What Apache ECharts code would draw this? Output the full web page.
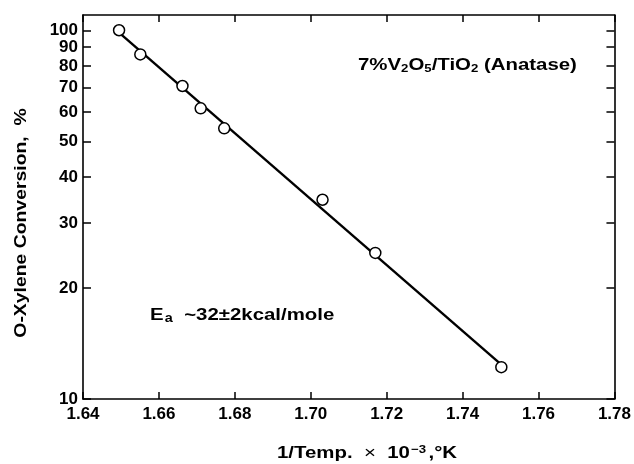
<!DOCTYPE html>
<html>
<head>
<meta charset="utf-8">
<script src="https://cdn.jsdelivr.net/npm/echarts@6/dist/echarts.min.js"></script>
<style>
  html, body { margin: 0; padding: 0; background: #fff; }
  #main { width: 634px; height: 464px; }
</style>
</head>
<body>
<div id="main"></div>
<script>
// measured points (1/T x 10^3, conversion %)
var tempInv = [1.6495, 1.6551, 1.6662, 1.6710, 1.6772, 1.7031, 1.7170, 1.7502];
var conversion = [100, 86, 70.6, 61.4, 54.2, 34.7, 24.9, 12.2];
// fitted line end points
var fitX = [1.6495, 1.7502];
var fitY = [98.5, 12.4];
var yTicks = [10, 20, 30, 40, 50, 60, 70, 80, 90, 100];

var FONT = 'Liberation Sans';
var myChart = echarts.init(document.getElementById('main'));

var pts = tempInv.map(function (x, i) { return [x, conversion[i]]; });
var fit = fitX.map(function (x, i) { return [x, fitY[i]]; });

var axLine = { show: true, lineStyle: { color: '#000', width: 1.6 } };

myChart.setOption({
	backgroundColor: '#fff',
	animation: false,
	grid: { left: 83, right: 18, top: 15, bottom: 65 },
	xAxis: [
		{
			type: 'value', min: 1.64, max: 1.78, interval: 0.02,
			axisLine: axLine,
			axisTick: { inside: true, length: 7, lineStyle: { color: '#000', width: 1.5 } },
			axisLabel: {
				color: '#000', fontFamily: FONT, fontWeight: 'bold', fontSize: 17, margin: 7,
				formatter: function (v) { return v.toFixed(2); }
			},
			splitLine: { show: false }
		},
		{
			type: 'value', position: 'top', min: 1.64, max: 1.78, interval: 0.02,
			axisLine: axLine,
			axisTick: { inside: true, length: 7, lineStyle: { color: '#000', width: 1.5 } },
			axisLabel: { show: false },
			splitLine: { show: false }
		}
	],
	yAxis: [
		{
			type: 'log', logBase: 10, min: 10, max: 110,
			axisLine: axLine,
			axisTick: { inside: true, length: 8, customValues: yTicks, lineStyle: { color: '#000', width: 1.5 } },
			axisLabel: {
				color: '#000', fontFamily: FONT, fontWeight: 'bold', fontSize: 17, margin: 5,
				customValues: yTicks
			},
			minorTick: { show: false },
			splitLine: { show: false }
		},
		{
			type: 'log', logBase: 10, min: 10, max: 110, position: 'right',
			axisLine: axLine,
			axisTick: { inside: true, length: 8, customValues: yTicks, lineStyle: { color: '#000', width: 1.5 } },
			axisLabel: { show: false },
			splitLine: { show: false }
		}
	],
	series: [
		{
			type: 'line',
			data: fit,
			symbol: 'none',
			lineStyle: { color: '#000', width: 2.4 },
			z: 2
		},
		{
			type: 'scatter',
			data: pts,
			symbol: 'circle',
			symbolSize: 11,
			itemStyle: { color: '#fff', opacity: 1, borderColor: '#000', borderWidth: 1.5 },
			z: 3
		}
	],
	graphic: [
		{
			type: 'text', x: 21, y: 223, rotation: Math.PI / 2, scaleX: 1.14,
			style: {
				text: 'O-Xylene Conversion,  %',
				x: 0, y: 0,
				font: 'bold 17px "Liberation Sans"', fill: '#000',
				align: 'center', verticalAlign: 'middle'
			}
		},
		{
			type: 'text', x: 277, y: 453, scaleX: 1.2,
			style: {
				text: '1/Temp.  {x|×}  10{sup|−3},{n|°K}',
				x: 0, y: 0,
				font: 'bold 17px "Liberation Sans"', fill: '#000',
				verticalAlign: 'middle',
				rich: {
					x: { fontFamily: FONT, fontSize: 17, fontWeight: 'normal' },
					sup: { fontFamily: FONT, fontSize: 11, fontWeight: 'bold', padding: [0, 2, 7, 1] },
					n: { fontFamily: FONT, fontSize: 17, fontWeight: 'bold' }
				}
			}
		},
		{
			type: 'text', x: 358, y: 65, scaleX: 1.2,
			style: {
				text: '7%V{s|2}O{s|5}/TiO{s|2} (Anatase)',
				x: 0, y: 0,
				font: 'bold 17px "Liberation Sans"', fill: '#000',
				verticalAlign: 'middle',
				rich: {
					s: { fontFamily: FONT, fontSize: 11, fontWeight: 'bold', padding: [7, 0, 0, 0] }
				}
			}
		},
		{
			type: 'text', x: 150, y: 315, scaleX: 1.2,
			style: {
				text: 'E{s|a}  ~32±2kcal/mole',
				x: 0, y: 0,
				font: 'bold 17px "Liberation Sans"', fill: '#000',
				verticalAlign: 'middle',
				rich: {
					s: { fontFamily: FONT, fontSize: 12, fontWeight: 'bold', padding: [7, 0, 0, 1] }
				}
			}
		}
	]
});
</script>
</body>
</html>
